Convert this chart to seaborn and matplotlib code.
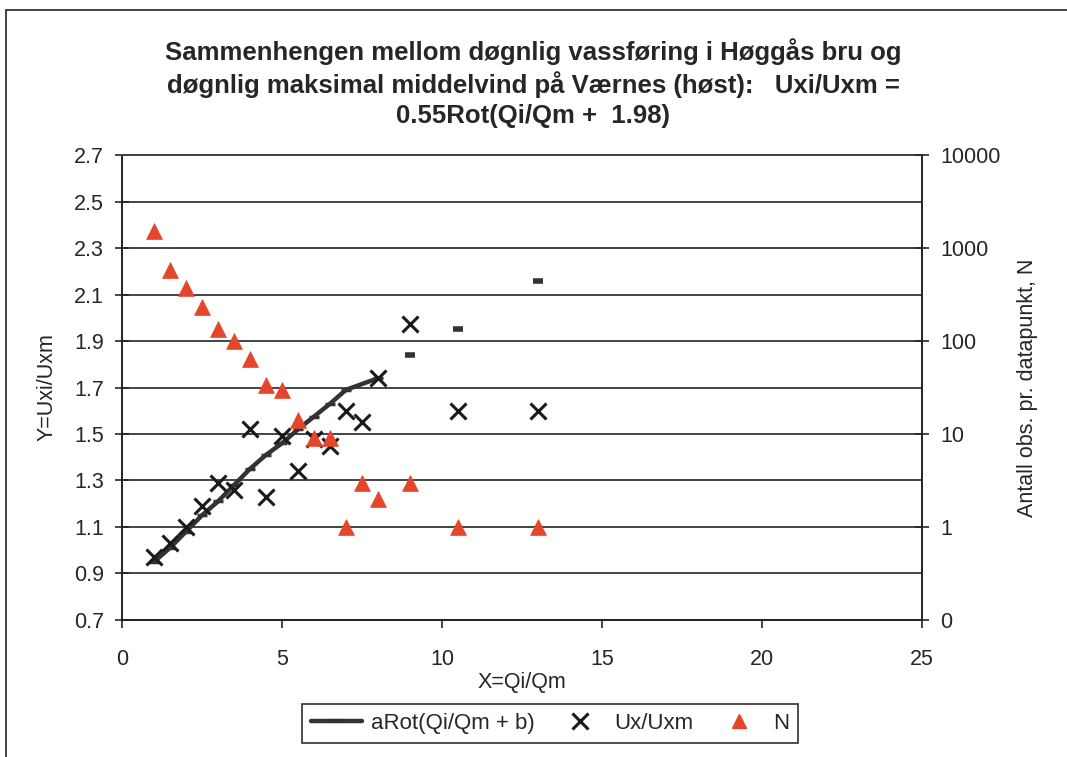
import numpy as np
import pandas as pd
import matplotlib
matplotlib.use("Agg")
import matplotlib.pyplot as plt
import seaborn as sns
from matplotlib.lines import Line2D
from matplotlib.ticker import FuncFormatter, FixedLocator

# Fitted curve aRot(Qi/Qm + b); only the first 14 points are joined by the line
fit_x = [1, 1.5, 2, 2.5, 3, 3.5, 4, 4.5, 5, 5.5, 6, 6.5, 7, 8, 9, 10.5, 13]
fit_y = [0.95, 1.01, 1.08, 1.15, 1.21, 1.28, 1.35, 1.41, 1.46, 1.52, 1.575, 1.63, 1.69, 1.74,
         1.84, 1.95, 2.16]
n_joined = 14

# Observed Ux/Uxm
obs_x = [1, 1.5, 2, 2.5, 3, 3.5, 4, 4.5, 5, 5.5, 6, 6.5, 7, 7.5, 8, 9, 10.5, 13]
obs_y = [0.97, 1.03, 1.10, 1.19, 1.29, 1.26, 1.52, 1.23, 1.49, 1.34, 1.48, 1.45, 1.60, 1.55,
         1.74, 1.975, 1.60, 1.60]

# Number of observations per data point
cnt_x = [1, 1.5, 2, 2.5, 3, 3.5, 4, 4.5, 5, 5.5, 6, 6.5, 7, 7.5, 8, 9, 10.5, 13]
cnt_n = [1540, 585, 369, 231, 135, 100, 64, 34, 30, 14, 9, 9, 1, 3, 2, 3, 1, 1]

title = ("Sammenhengen mellom døgnlig vassføring i Høggås bru og\n"
         "døgnlig maksimal middelvind på Værnes (høst):   Uxi/Uxm =\n"
         "0.55Rot(Qi/Qm +  1.98)")

sns.set_style("white")
plt.rcParams['font.family'] = ['Liberation Sans', 'DejaVu Sans']

line_col = '#333333'
tri_col = '#e4452b'
grid_col = '#444444'
fs = 15.5

fig = plt.figure(figsize=(10.67, 7.57), dpi=100)
ax = fig.add_axes([0.1143, 0.181, 0.7498, 0.6142])

fit_df = pd.DataFrame({'x': fit_x, 'y': fit_y})
obs_df = pd.DataFrame({'x': obs_x, 'y': obs_y})
cnt_df = pd.DataFrame({'x': cnt_x, 'n': cnt_n})

sns.lineplot(data=fit_df.iloc[:n_joined], x='x', y='y', color=line_col, lw=3.2,
             marker='_', markersize=7, markeredgewidth=2.5, markeredgecolor=line_col,
             sort=False, ax=ax, zorder=3)
sns.scatterplot(data=fit_df.iloc[n_joined:], x='x', y='y', marker='_', s=50,
                linewidth=4, color=line_col, ax=ax, zorder=3)
ax.plot(obs_df['x'], obs_df['y'], ls='none', marker='x', markersize=12,
        markeredgewidth=2.2, color='#1a1a1a', zorder=4)

ax.set_xlim(0, 25)
ax.set_ylim(0.7, 2.7)
ax.set_xticks([0, 5, 10, 15, 20, 25])
ax.set_yticks(np.round(np.arange(0.7, 2.71, 0.2), 1))
ax.yaxis.set_major_formatter(FuncFormatter(lambda v, p: f"{v:.1f}"))
ax.grid(axis='y', color=grid_col, lw=1.4)
ax.grid(axis='x', visible=False)
ax.tick_params(axis='y', direction='inout', length=10, width=1.2, pad=8, labelsize=fs, left=True)
ax.tick_params(axis='x', direction='out', length=6, width=1.2, pad=15, labelsize=fs, bottom=True)
for side in ['left', 'bottom', 'right']:
    ax.spines[side].set_color('#222222')
    ax.spines[side].set_linewidth(1.4)
ax.spines['top'].set_color(grid_col)
ax.spines['top'].set_linewidth(1.4)
ax.set_xlabel('X=Qi/Qm', fontsize=fs, labelpad=1)
ax.set_ylabel('Y=Uxi/Uxm', fontsize=fs, labelpad=12)

ax2 = ax.twinx()
sns.scatterplot(data=cnt_df, x='x', y='n', marker='^', s=130, color=tri_col,
                edgecolor=tri_col, linewidth=0.5, ax=ax2, zorder=5)
ax2.set_yscale('log')
ax2.set_ylim(0.1, 10000)
ax2.yaxis.set_major_locator(FixedLocator([0.1, 1, 10, 100, 1000, 10000]))
ax2.yaxis.set_minor_locator(FixedLocator([]))
ax2.yaxis.set_major_formatter(FuncFormatter(lambda v, p: f"{v:.0f}"))
ax2.tick_params(axis='y', direction='inout', length=10, width=1.2, pad=8, labelsize=fs, right=True)
ax2.set_ylabel('Antall obs. pr. datapunkt, N', fontsize=fs, labelpad=12)
for s in ax2.spines.values():
    s.set_visible(False)

fig.suptitle(title, fontsize=18.5, fontweight='bold', y=0.95, linespacing=1.3)

handles = [
    Line2D([], [], color=line_col, lw=3.2, marker='_', markersize=8, markeredgewidth=3),
    Line2D([], [], ls='none', marker='x', markersize=12, markeredgewidth=2.2, color='#1a1a1a'),
    Line2D([], [], ls='none', marker='^', markersize=10, color=tri_col),
]
leg = fig.legend(handles, ['aRot(Qi/Qm + b)', 'Ux/Uxm', 'N'], loc='center',
                 bbox_to_anchor=(0.5155, 0.044), ncol=3, fontsize=16, frameon=True,
                 fancybox=False, edgecolor='#111111', handlelength=2.3, columnspacing=0.9,
                 handletextpad=0.4, borderpad=0.4)
leg.get_frame().set_linewidth(1.3)

fig.patches.append(plt.Rectangle((0.006, -0.05), 1.2, 1.037, transform=fig.transFigure,
                                 fill=False, edgecolor='#222222', lw=1.2))

fig.savefig('out.png', dpi=100, facecolor='white')
plt.close()
